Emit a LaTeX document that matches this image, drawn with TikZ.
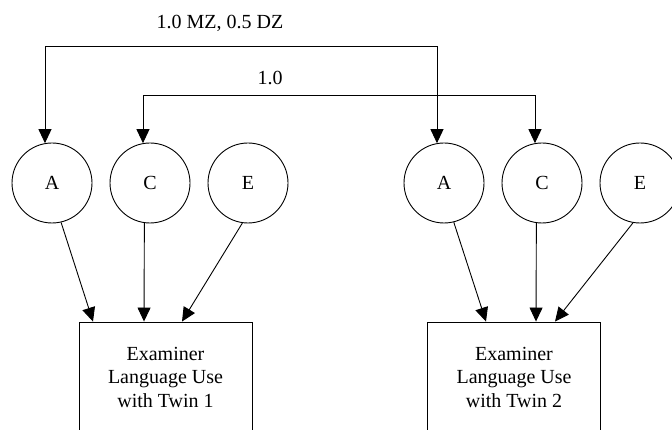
\documentclass[tikz,border=0pt]{standalone}
\usepackage{fontspec}
\setmainfont{Liberation Serif}
\usetikzlibrary{positioning, arrows.meta}

\begin{document}
\begin{tikzpicture}[
    x=1pt, y=1pt,
    node distance=98pt,
    line width=0.9pt,
    >={Triangle[length=14pt,width=13pt]},
    every node/.style={font=\fontsize{20}{23.5}\selectfont}, % same type size everywhere
    factor/.style={circle, draw, minimum size=80pt, inner sep=0pt},
    measure/.style={rectangle, draw, minimum width=173pt, minimum height=110pt, align=center}
]
\useasboundingbox (0,0) rectangle (672,-430);
% latent factors, twin 1
\node[factor] (a_1) at (52,-183) {A};
\node[factor] (c_1) [right of=a_1] {C};
\node[factor] (e_1) [right of=c_1] {E};
% latent factors, twin 2
\node[factor] (a_2) [right of=e_1, node distance=196pt] {A};
\node[factor] (c_2) [right of=a_2] {C};
\node[factor] (e_2) [right of=c_2] {E};
% observed scores
\node[measure] (y_1) at (165.5,-377) {Examiner\\Language Use\\with Twin 1};
\node[measure] (y_2) at (514,-377) {Examiner\\Language Use\\with Twin 2};
% correlation labels
\node (r_a) at (220,-23) {1.0 MZ, 0.5 DZ};
\node (r_c) at (270,-78) {1.0};
% correlations between the twins
\draw[<->] (a_1.100) -- ++(0,97) -| (a_2.100);
\draw[<->] (c_1.100) -- ++(0,48) -| (c_2.100);
% paths to the observed scores
\path[->]
(a_1.283) edge ([xshift=-72.5pt]y_1.north)
(c_1.262) edge ([xshift=-21.5pt]y_1.north)
(e_1.262) edge ([xshift=16.5pt]y_1.north)
(a_2.284) edge ([xshift=-28pt]y_2.north)
(c_2.262) edge ([xshift=22pt]y_2.north)
(e_2.260) edge ([xshift=41pt]y_2.north)
; % all six paths
\end{tikzpicture}
\end{document}
